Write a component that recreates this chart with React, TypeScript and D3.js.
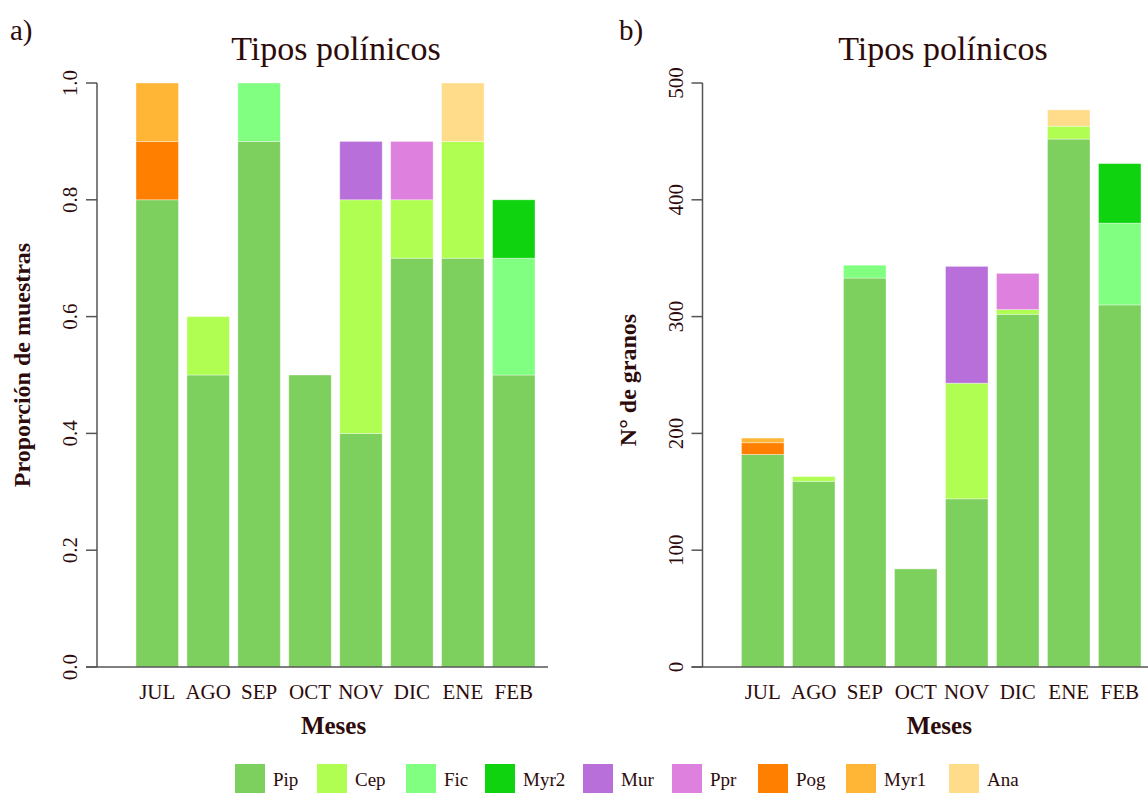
import React from 'react';
import * as d3 from 'd3';

const months = ['JUL', 'AGO', 'SEP', 'OCT', 'NOV', 'DIC', 'ENE', 'FEB'];
const taxa = ['Pip', 'Cep', 'Fic', 'Myr2', 'Mur', 'Ppr', 'Pog', 'Myr1', 'Ana'];
const taxaColors = ['#7ed05e', '#b0fe52', '#80ff80', '#0fd30e', '#b86fd9', '#de80de', '#ff8000', '#ffb535', '#ffdc8a'];

// proporción de muestras (panel a), one array per taxon, in month order
const propPip = [0.8, 0.5, 0.9, 0.5, 0.4, 0.7, 0.7, 0.5];
const propCep = [0, 0.1, 0, 0, 0.4, 0.1, 0.2, 0];
const propFic = [0, 0, 0.1, 0, 0, 0, 0, 0.2];
const propMyr2 = [0, 0, 0, 0, 0, 0, 0, 0.1];
const propMur = [0, 0, 0, 0, 0.1, 0, 0, 0];
const propPpr = [0, 0, 0, 0, 0, 0.1, 0, 0];
const propPog = [0.1, 0, 0, 0, 0, 0, 0, 0];
const propMyr1 = [0.1, 0, 0, 0, 0, 0, 0, 0];
const propAna = [0, 0, 0, 0, 0, 0, 0.1, 0];

// nº de granos (panel b)
const granPip = [182, 159, 333, 84, 144, 302, 452, 310];
const granCep = [0, 4, 0, 0, 99, 4, 11, 0];
const granFic = [0, 0, 11, 0, 0, 0, 0, 70];
const granMyr2 = [0, 0, 0, 0, 0, 0, 0, 51];
const granMur = [0, 0, 0, 0, 100, 0, 0, 0];
const granPpr = [0, 0, 0, 0, 0, 31, 0, 0];
const granPog = [10, 0, 0, 0, 0, 0, 0, 0];
const granMyr1 = [4, 0, 0, 0, 0, 0, 0, 0];
const granAna = [0, 0, 0, 0, 0, 0, 14, 0];

const propTicks = [0, 0.2, 0.4, 0.6, 0.8, 1.0];
const granTicks = [0, 100, 200, 300, 400, 500];

const propSeries = [propPip, propCep, propFic, propMyr2, propMur, propPpr, propPog, propMyr1, propAna];
const granSeries = [granPip, granCep, granFic, granMyr2, granMur, granPpr, granPog, granMyr1, granAna];

const W = 1148;
const H = 793;
const FONT = '"Liberation Serif", "DejaVu Serif", serif';
const TXT = '#2d0b0b';
const AXC = '#555';

const toRows = (series: number[][]) =>
  months.map((m, i) => {
    const row: any = { month: m };
    taxa.forEach((t, k) => (row[t] = series[k][i]));
    return row;
  });

function Panel(props: any) {
  const { series, yMax, ticks, fmt, axisX, barL, barR, lineR, letter, letterX, titleX, ylab, ylabX, ylabY } = props;
  const top = 83;
  const base = 667;
  const y = d3.scaleLinear().domain([0, yMax]).range([base, top]);
  const x = d3.scaleBand<string>().domain(months).range([barL, barR]).paddingInner(0.1667).paddingOuter(0);
  const stacked = d3.stack().keys(taxa)(toRows(series));
  const tickLen = 11;

  return (
    <g>
      <text x={letterX} y={40} fontSize={29} fill={TXT} fontFamily={FONT}>{letter}</text>
      <text x={titleX} y={60} fontSize={34} fill={TXT} fontFamily={FONT} textAnchor="middle">Tipos polínicos</text>

      {stacked.map((layer, k) => (
        <g key={taxa[k]} fill={taxaColors[k]}>
          {layer.map((d: any, i: number) =>
            d[1] - d[0] > 0 ? (
              <rect
                key={i}
                x={x(months[i])}
                y={y(d[1])}
                width={x.bandwidth()}
                height={y(d[0]) - y(d[1])}
                stroke="rgba(255,255,255,0.45)"
                strokeWidth={0.8}
              />
            ) : null
          )}
        </g>
      ))}

      {/* y axis */}
      <line x1={axisX} x2={axisX} y1={y(yMax)} y2={base} stroke={AXC} strokeWidth={1.5} />
      {ticks.map((t: number) => (
        <g key={t}>
          <line x1={axisX - tickLen} x2={axisX} y1={y(t)} y2={y(t)} stroke={AXC} strokeWidth={1.5} />
          <text
            transform={`translate(${axisX - tickLen - 9},${y(t)}) rotate(-90)`}
            textAnchor="middle"
            fontSize={21}
            fill={TXT}
            fontFamily={FONT}
          >
            {fmt(t)}
          </text>
        </g>
      ))}
      <line x1={axisX - tickLen} x2={lineR} y1={base} y2={base} stroke={AXC} strokeWidth={1.5} />

      {months.map((m) => (
        <text key={m} x={(x(m) as number) + x.bandwidth() / 2} y={699} textAnchor="middle" fontSize={21} fill={TXT} fontFamily={FONT}>
          {m}
        </text>
      ))}
      <text x={(barL + barR) / 2 - 2} y={734} textAnchor="middle" fontSize={25} fontWeight="bold" fill={TXT} fontFamily={FONT}>
        Meses
      </text>
      <text
        transform={`translate(${ylabX},${ylabY}) rotate(-90)`}
        textAnchor="middle"
        fontSize={24}
        fontWeight="bold"
        fill={TXT}
        fontFamily={FONT}
      >
        {ylab}
      </text>
    </g>
  );
}

export default function App() {
  // legend layout: box then label, widths from approximate text lengths
  const legendStart = 235;
  const box = 30;
  const labelW = [30, 37, 27, 46, 37, 34, 36, 51, 33];
  const legendX: number[] = [];
  let cx = legendStart;
  taxa.forEach((t, k) => {
    legendX.push(cx);
    cx += box + 8 + labelW[k] + 14;
  });

  return (
    <svg width={W} height={H} style={{ position: 'absolute', left: 0, top: 0, background: '#fff' }}>
      <rect width={W} height={H} fill="#fff" />
      <Panel
        series={propSeries}
        yMax={1}
        ticks={propTicks}
        fmt={(t: number) => t.toFixed(1)}
        axisX={97}
        barL={136}
        barR={535}
        lineR={548}
        letter="a)"
        letterX={10}
        titleX={336}
        ylab="Proporción de muestras"
        ylabX={30}
        ylabY={365}
      />
      <Panel
        series={granSeries}
        yMax={500}
        ticks={granTicks}
        fmt={(t: number) => String(t)}
        axisX={702.5}
        barL={741.5}
        barR={1141}
        lineR={1148}
        letter="b)"
        letterX={619}
        titleX={943}
        ylab="N° de granos"
        ylabX={636}
        ylabY={380}
      />
      {taxa.map((t, k) => (
        <g key={t}>
          <rect x={legendX[k]} y={764} width={box} height={box} fill={taxaColors[k]} />
          <text x={legendX[k] + box + 8} y={786} fontSize={19} fill={TXT} fontFamily={FONT}>
            {t}
          </text>
        </g>
      ))}
    </svg>
  );
}
